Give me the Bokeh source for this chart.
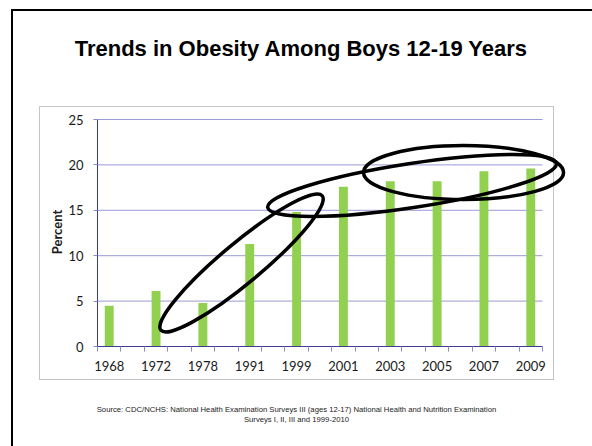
from bokeh.plotting import figure
from bokeh.models import Range1d, FixedTicker, LinearAxis
from bokeh.embed import file_html
from bokeh.resources import INLINE

# ---------------- data ----------------
years = ["1968", "1972", "1978", "1991", "1999", "2001", "2003", "2005", "2007", "2009"]
percent = [4.5, 6.1, 4.8, 11.3, 14.8, 17.6, 18.2, 18.2, 19.3, 19.6]
y_ticks = [0, 5, 10, 15, 20, 25]
grid_levels = [5, 10, 15, 20, 25]

# hand-drawn highlight ellipses: centre (data units), size (screen px), angle (deg)
ell_x = [6.15, 13.43, 15.63]
ell_y = [9.2, 17.73, 19.16]
ell_w = [210, 292, 200]
ell_h = [40, 44, 54]
ell_angle = [39.8, 8.7, 0.0]

title_text = "Trends in Obesity Among Boys 12-19 Years"
source_text = ("Source: CDC/NCHS: National Health Examination Surveys III (ages 12-17) National Health and Nutrition Examination\n"
               "Surveys I, II, III and 1999-2010")

# ---------------- layout ----------------
W, H = 592, 446
FL, FT = 97, 117            # frame left / top
FW, FH = 471, 229
n_slots = 2 * len(years)    # category slots (every other one empty, like the original)
UX = 445.0 / (n_slots - 1)  # px per slot
UY = 227.0 / 25             # px per percent
ORIGIN_X = 97.0

def px_x(x):
    return (x - ORIGIN_X) / UX

lines = [  # (colour, width, height, left, top) -- slide border and chart box
    ("#000000", "2px", "440px", "11px", "9px"),
    ("#000000", "585px", "2px", "11px", "9px"),
    ("#c4c4c4", "514px", "1px", "39px", "106px"),
    ("#c4c4c4", "514px", "1px", "39px", "379px"),
    ("#c4c4c4", "1px", "274px", "39px", "106px"),
    ("#c4c4c4", "1px", "274px", "553px", "106px"),
]
host_styles = {
    "background-color": "white",
    "background-image": ", ".join(f"linear-gradient({c}, {c})" for c, *_ in lines),
    "background-size": ", ".join(f"{w} {h}" for _, w, h, _l, _t in lines),
    "background-position": ", ".join(f"{l} {t}" for *_, l, t in lines),
    "background-repeat": "no-repeat",
}

p = figure(width=W, height=H, output_backend="svg", toolbar_location=None,
           x_range=Range1d(0, FW / UX), y_range=Range1d(0, FH / UY),
           min_border_left=FL, min_border_top=FT,
           min_border_right=W - FL - FW, min_border_bottom=H - FT - FH,
           styles=host_styles)
p.outline_line_color = None
p.background_fill_alpha = 0
p.border_fill_alpha = 0
p.xgrid.visible = False
p.ygrid.visible = False

# gridlines
p.segment(x0=0, x1=n_slots - 1, y0=grid_levels, y1=grid_levels,
          line_color="#9a9ad6", line_width=1)

# bars
bar_x = [2 * i + 0.5 for i in range(len(years))]
p.vbar(x=bar_x, top=percent, width=0.38, fill_color="#92d050", line_color=None)

# ellipses
p.ellipse(x=ell_x, y=ell_y, width=ell_w, height=ell_h, angle=ell_angle,
          angle_units="deg", width_units="screen", height_units="screen",
          fill_color=None, line_color="black", line_width=3.5)

# x axis
xa = p.xaxis[0]
xa.ticker = FixedTicker(ticks=bar_x, minor_ticks=list(range(n_slots)))
xa.major_label_overrides = {bx: yr for bx, yr in zip(bar_x, years)}
xa.bounds = (0, n_slots - 1)
xa.axis_line_color = "#3c3c94"
xa.major_tick_out = 0
xa.major_tick_in = 0
xa.minor_tick_out = 5
xa.minor_tick_in = 0
xa.minor_tick_line_color = "#8a8ac8"
xa.major_label_standoff = 9
xa.major_label_text_font = "Lato"
xa.major_label_text_font_size = "13px"
xa.major_label_text_color = "#1a1a1a"

# y axis
ya = p.yaxis[0]
ya.ticker = FixedTicker(ticks=y_ticks)
ya.bounds = (0, 25)
ya.axis_line_color = "#3c3c94"
ya.major_tick_out = 4
ya.major_tick_in = 0
ya.major_tick_line_color = "#8a8ac8"
ya.minor_tick_out = 0
ya.minor_tick_in = 0
ya.major_label_standoff = 10
ya.major_label_text_font = "Lato"
ya.major_label_text_font_size = "13px"
ya.major_label_text_color = "#1a1a1a"
ya.axis_label = "Percent"
ya.axis_label_text_font = "Lato"
ya.axis_label_text_font_style = "bold"
ya.axis_label_text_font_size = "13px"
ya.axis_label_text_color = "#1a1a1a"
ya.axis_label_standoff = 0


def text_axis(text, x_px, standoff, font, style, size, color):
    """Invisible axis whose single tick label carries a slide text."""
    tx = px_x(x_px)
    return LinearAxis(ticker=FixedTicker(ticks=[tx], minor_ticks=[]),
                      major_label_overrides={tx: text},
                      axis_line_color=None, major_tick_line_color=None,
                      minor_tick_line_color=None,
                      major_tick_out=0, major_tick_in=0, minor_tick_out=0, minor_tick_in=0,
                      major_label_standoff=standoff,
                      major_label_text_font=font, major_label_text_font_style=style,
                      major_label_text_font_size=size, major_label_text_color=color)

# slide title (above the chart box)
p.add_layout(text_axis(title_text, 301, 57, "Liberation Sans", "bold", "22px", "black"), "above")
# source note (below the chart box)
p.add_layout(text_axis(source_text, 296, 31, "Liberation Sans", "normal", "7.7px", "#222222"), "below")

open("out.html", "w").write(file_html(p, INLINE))
